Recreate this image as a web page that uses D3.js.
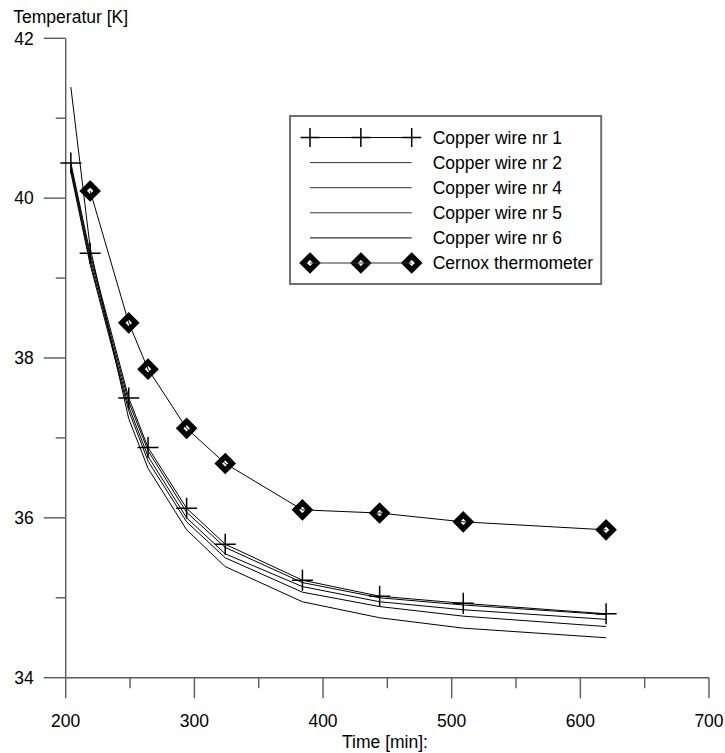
<!DOCTYPE html>
<html><head><meta charset="utf-8">
<script src="https://cdn.jsdelivr.net/npm/d3@7"></script>
<style>html,body{margin:0;padding:0;background:#fff}svg{display:block}</style>
</head><body>
<script>
const times = [204, 219, 249, 264, 294, 324, 384, 444, 509, 620];
const wire1 = [40.44, 39.31, 37.50, 36.88, 36.12, 35.67, 35.22, 35.02, 34.93, 34.80];
const wire2 = [40.40, 39.26, 37.45, 36.84, 36.07, 35.63, 35.19, 35.00, 34.91, 34.79];
const wire4 = [40.36, 39.21, 37.39, 36.77, 36.00, 35.55, 35.14, 34.95, 34.85, 34.73];
const wire5 = [40.32, 39.17, 37.34, 36.71, 35.95, 35.50, 35.07, 34.89, 34.77, 34.64];
const wire6 = [41.39, 39.38, 37.24, 36.62, 35.85, 35.39, 34.95, 34.75, 34.62, 34.50];
const cernoxTimes = [219, 249, 264, 294, 324, 384, 444, 509, 620];
const cernox = [40.09, 38.44, 37.86, 37.12, 36.68, 36.10, 36.06, 35.95, 35.85];
const xMajor = [200, 300, 400, 500, 600, 700];
const xMinor = [250, 350, 450, 550, 650];
const yMajor = [34, 36, 38, 40, 42];
const yMinor = [35, 37, 39, 41];
const legendLabels = ["Copper wire nr 1", "Copper wire nr 2", "Copper wire nr 4", "Copper wire nr 5", "Copper wire nr 6", "Cernox thermometer"];

const W = 725, H = 753;
const FONT = "'Liberation Sans', Arial, sans-serif";
const FS = 17.5;
const svg = d3.select("body").append("svg").attr("width", W).attr("height", H)
  .style("font-family", FONT).style("font-size", FS + "px");

const x = d3.scaleLinear().domain([200, 700]).range([65.7, 709]);
const y = d3.scaleLinear().domain([34, 42]).range([677.7, 38.3]);
const axisColor = "#5a5a5a";

// axes
const g = svg.append("g");
g.append("line").attr("x1", x(200)).attr("x2", x(200)).attr("y1", y(42)).attr("y2", y(34))
  .attr("stroke", axisColor).attr("stroke-width", 1.4);
g.append("line").attr("x1", x(200)).attr("x2", x(700)).attr("y1", y(34)).attr("y2", y(34))
  .attr("stroke", axisColor).attr("stroke-width", 1.4);

yMajor.forEach(v => {
  g.append("line").attr("x1", x(200) - 22).attr("x2", x(200)).attr("y1", y(v)).attr("y2", y(v))
    .attr("stroke", axisColor).attr("stroke-width", 1.4);
  g.append("text").attr("x", x(200) - 32).attr("y", y(v)).attr("dy", "0.36em")
    .attr("text-anchor", "end").text(v);
});
yMinor.forEach(v => {
  g.append("line").attr("x1", x(200) - 10).attr("x2", x(200)).attr("y1", y(v)).attr("y2", y(v))
    .attr("stroke", axisColor).attr("stroke-width", 1.4);
});
xMajor.forEach(v => {
  g.append("line").attr("x1", x(v)).attr("x2", x(v)).attr("y1", y(34)).attr("y2", y(34) + 20.5)
    .attr("stroke", axisColor).attr("stroke-width", 1.4);
  g.append("text").attr("x", x(v)).attr("y", 727).attr("text-anchor", "middle").text(v);
});
xMinor.forEach(v => {
  g.append("line").attr("x1", x(v)).attr("x2", x(v)).attr("y1", y(34)).attr("y2", y(34) + 10.5)
    .attr("stroke", axisColor).attr("stroke-width", 1.4);
});
svg.append("text").attr("x", 13.3).attr("y", 22.5).text("Temperatur [K]");
svg.append("text").attr("x", 385).attr("y", 748).attr("text-anchor", "middle").text("Time [min]:");

// series
const line = d3.line().x(d => x(d[0])).y(d => y(d[1]));
const zip = (xs, ys) => xs.map((t, i) => [t, ys[i]]);
const wires = [wire1, wire2, wire4, wire5, wire6];
wires.forEach(w => {
  svg.append("path").attr("d", line(zip(times, w))).attr("fill", "none")
    .attr("stroke", "#000").attr("stroke-width", 1);
});
// crosses on wire 1
const crossPath = (cx, cy, r) => `M${cx - r},${cy}H${cx + r}M${cx},${cy - r}V${cy + r}`;
zip(times, wire1).forEach(d => {
  svg.append("path").attr("d", crossPath(x(d[0]), y(d[1]), 10.5)).attr("stroke", "#000")
    .attr("stroke-width", 1.5).attr("fill", "none");
});
// cernox
const diamond = (cx, cy, r) => `M${cx},${cy - r}L${cx + r},${cy}L${cx},${cy + r}L${cx - r},${cy}Z`;
const cz = zip(cernoxTimes, cernox);
cz.forEach(d => {
  svg.append("path").attr("d", diamond(x(d[0]), y(d[1]), 7)).attr("fill", "#fff")
    .attr("stroke", "#000").attr("stroke-width", 5.4).attr("stroke-linejoin", "miter");
});
svg.append("path").attr("d", line(cz)).attr("fill", "none").attr("stroke", "#000").attr("stroke-width", 1);

// legend
const lg = svg.append("g");
const rowY = i => 137.5 + i * 25.1;
const lx0 = 310, lx1 = 411.7, tx = 432.7;
const texts = legendLabels.map((s, i) => lg.append("text").attr("x", tx).attr("y", rowY(i)).attr("dy", "0.36em").text(s));
const maxW = d3.max(texts, t => t.node().getComputedTextLength());
lg.insert("rect", ":first-child").attr("x", 290).attr("y", 116).attr("width", tx + maxW + 8 - 290).attr("height", 284 - 116)
  .attr("fill", "#fff").attr("stroke", "#707070").attr("stroke-width", 2);
legendLabels.forEach((s, i) => {
  const yy = rowY(i);
  if (i === 5) {
    [lx0, (lx0 + lx1) / 2, lx1].forEach(cx => lg.append("path").attr("d", diamond(cx, yy, 7))
      .attr("fill", "#fff").attr("stroke", "#000").attr("stroke-width", 5.4));
  }
  lg.append("line").attr("x1", lx0).attr("x2", lx1).attr("y1", yy).attr("y2", yy)
    .attr("stroke", i === 0 || i === 4 ? "#000" : "#333").attr("stroke-width", 1);
  if (i === 0) {
    [lx0, (lx0 + lx1) / 2, lx1].forEach(cx => lg.append("path").attr("d", crossPath(cx, yy, 9.5))
      .attr("stroke", "#000").attr("stroke-width", 1.5));
  }
});
</script>
</body></html>
